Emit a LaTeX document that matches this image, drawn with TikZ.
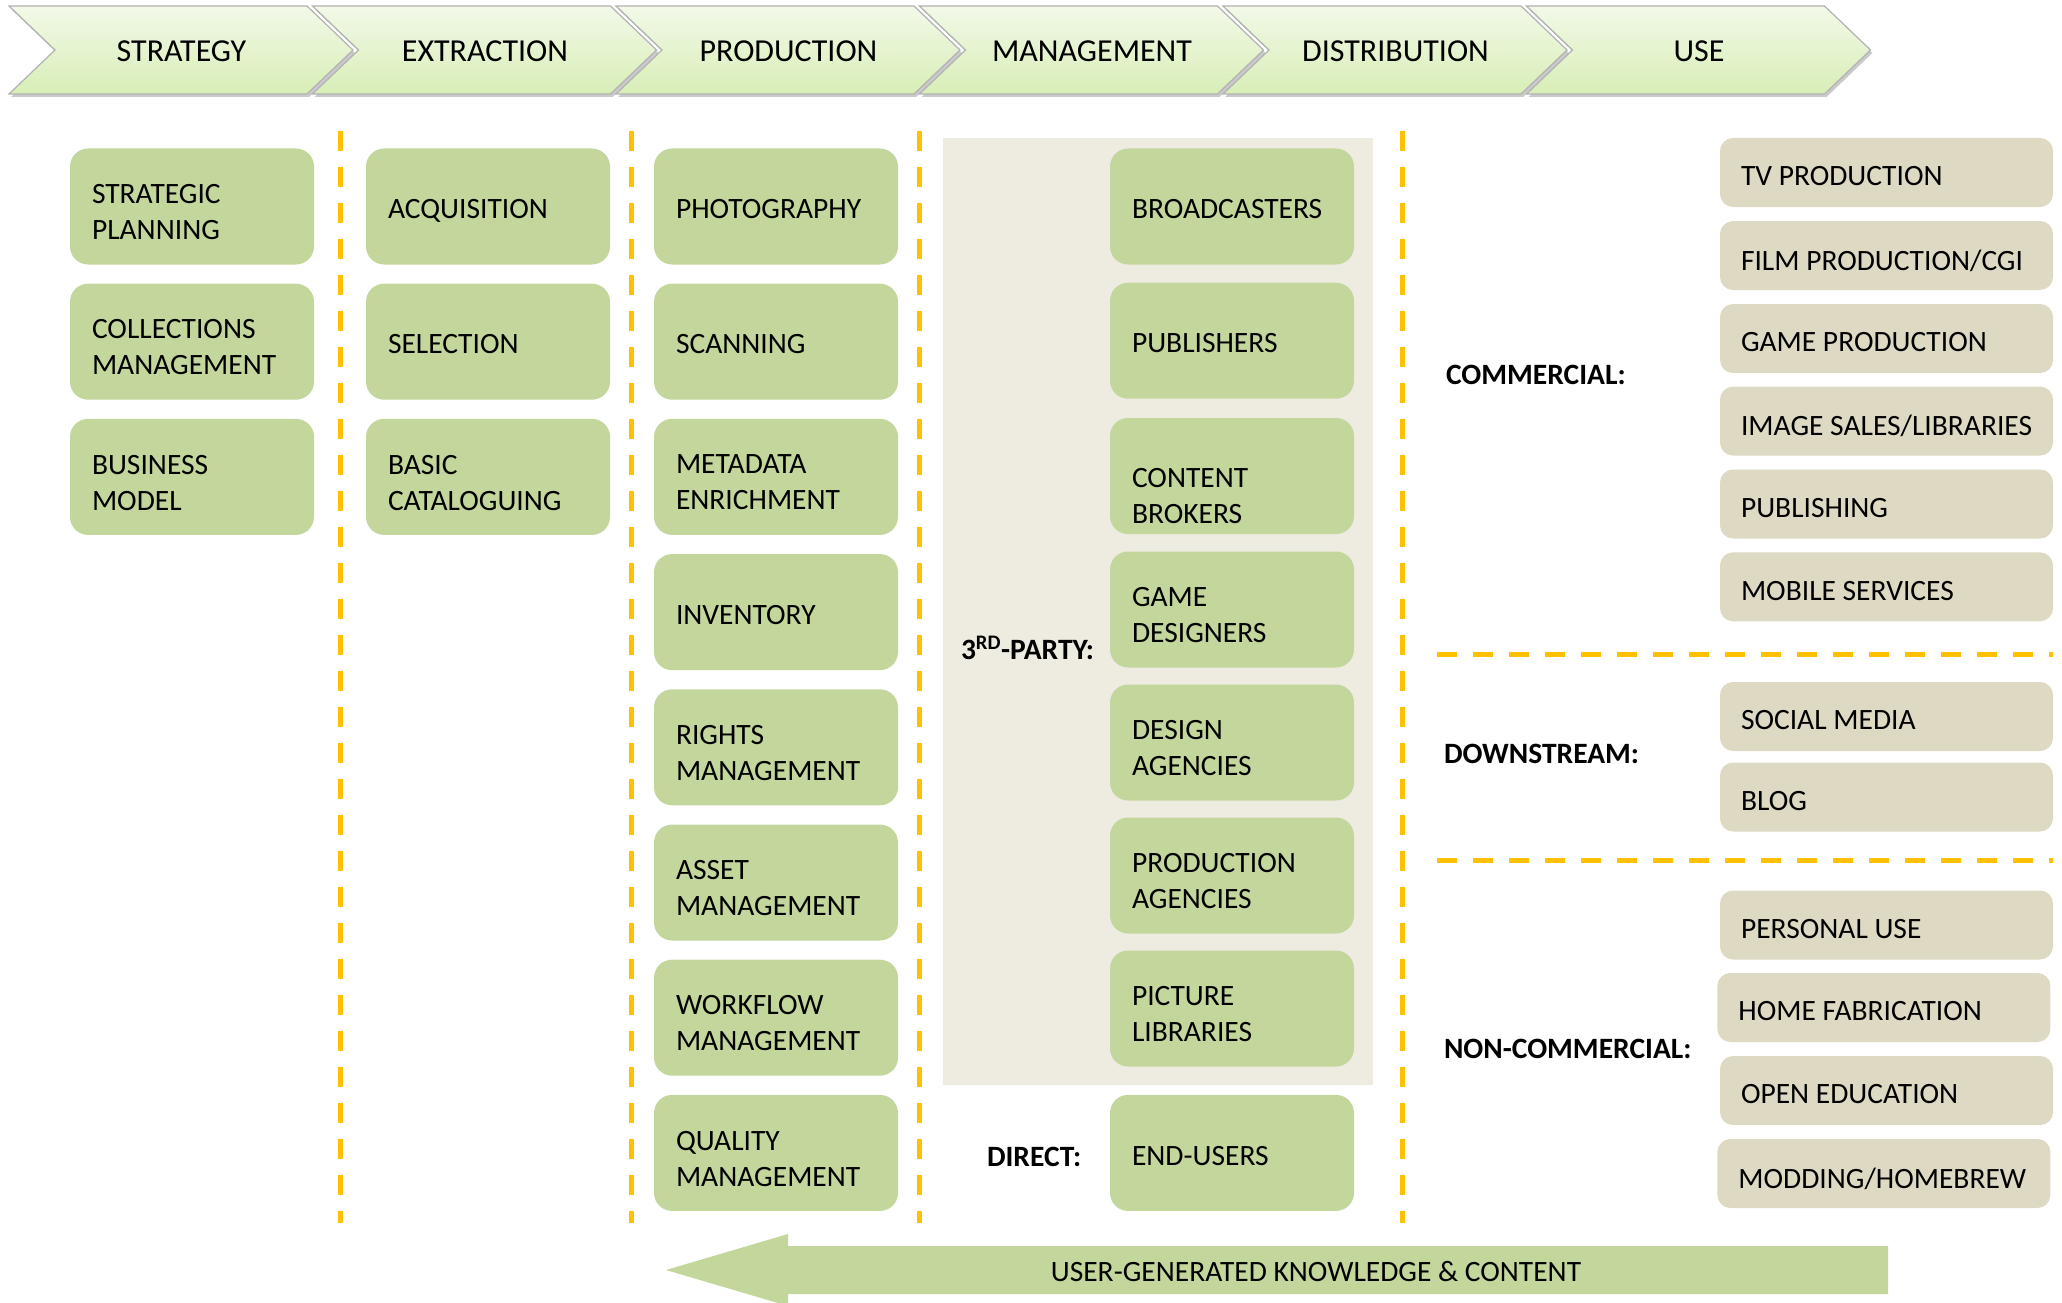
\documentclass[tikz,border=0pt]{standalone}
\usepackage{fontspec}
\setmainfont{Carlito}
\usetikzlibrary{calc,shadows}
\definecolor{boxgreen}{HTML}{C3D69B}
\definecolor{boxtan}{HTML}{DDD9C3}
\definecolor{bgtan}{HTML}{EEECE1}
\definecolor{dashy}{HTML}{FFC000}
\definecolor{chevtop}{HTML}{F2F9E8}
\definecolor{chevbot}{HTML}{D8EEB6}
\newcommand{\mkgbox}[5]{%
  \node[gbox] (#1) at (#2,#3) {};
  \node[btxt] (#1-t) at ($(#1.north west)+(22,#4)$) {#5};}
\newcommand{\mkubox}[4]{%
  \node[tbox] (#1) at (#2,#3) {};
  \node[btxt] (#1-t) at ($(#1.north west)+(21,28.6)$) {#4};}
\begin{document}
\begin{tikzpicture}[x=1pt,y=-1pt,
  every node/.style={font=\fontsize{29.5}{36}\selectfont, inner sep=0pt, outer sep=0pt},
  gbox/.style={fill=boxgreen, rounded corners=18pt, minimum width=244pt, minimum height=116pt, anchor=north west},
  tbox/.style={fill=boxtan, rounded corners=13pt, minimum width=333pt, minimum height=69pt, anchor=north west},
  btxt/.style={anchor=north west, align=left},
  lbl/.style={anchor=base west, font=\fontsize{29.5}{36}\selectfont\bfseries},
  htxt/.style={anchor=base, font=\fontsize{32}{38}\selectfont},
  divider/.style={draw=dashy, line width=5pt, dash pattern=on 20pt off 16pt},
  chev/.style={top color=chevtop, bottom color=chevbot, draw=black!30, line width=1.2pt,
    drop shadow={shadow xshift=2pt, shadow yshift=-3pt, opacity=0.35, fill=black!60}},
]
\useasboundingbox (0,0) rectangle (2062,1303);
\clip (0,0) rectangle (2062,1303);

% header chevrons
\foreach \i/\t in {0/STRATEGY,1/EXTRACTION,2/PRODUCTION,3/MANAGEMENT,4/DISTRIBUTION,5/USE}{
  \path[chev] ({9+303.5*\i},6) -- ++(298,0) -- ++(46,44) -- ++(-46,44) -- ++(-298,0) -- ++(46,-44) -- cycle;
  \node[htxt] (h\i) at ({181.5+303.5*\i},61.3) {\t};
}

% management background
\fill[bgtan] (943,138) rectangle (1373,1085);

% dividers
\foreach \x in {340.6,631,919,1402}{
  \draw[divider] (\x,131) -- (\x,1223);
}
\draw[divider] (1437,654) -- (2053,654);
\draw[divider] (1437,860) -- (2053,860);

% strategy
\mkgbox{sp}{70}{148.5}{36}{STRATEGIC\\PLANNING}
\mkgbox{cm}{70}{283.7}{36}{COLLECTIONS\\MANAGEMENT}
\mkgbox{bm}{70}{418.9}{36}{BUSINESS\\MODEL}

% extraction
\mkgbox{acq}{366}{148.5}{51}{ACQUISITION}
\mkgbox{sel}{366}{283.7}{51}{SELECTION}
\mkgbox{bc}{366}{418.9}{36}{BASIC\\CATALOGUING}

% production
\mkgbox{pho}{654}{148.5}{51}{PHOTOGRAPHY}
\mkgbox{scn}{654}{283.7}{51}{SCANNING}
\mkgbox{mde}{654}{418.9}{36}{METADATA\\ENRICHMENT}
\mkgbox{inv}{654}{554.1}{51}{INVENTORY}
\mkgbox{rm}{654}{689.3}{36}{RIGHTS\\MANAGEMENT}
\mkgbox{am}{654}{824.5}{36}{ASSET\\MANAGEMENT}
\mkgbox{wm}{654}{959.7}{36}{WORKFLOW\\MANAGEMENT}
\mkgbox{qm}{654}{1094.9}{36}{QUALITY\\MANAGEMENT}

% management / distribution
\mkgbox{brd}{1110}{148.5}{51}{BROADCASTERS}
\mkgbox{pub}{1110}{282.7}{51}{PUBLISHERS}
\mkgbox{cb}{1110}{418}{50}{CONTENT\\BROKERS}
\mkgbox{gd}{1110}{551.5}{36}{GAME\\DESIGNERS}
\mkgbox{da}{1110}{684.5}{36}{DESIGN\\AGENCIES}
\mkgbox{pa}{1110}{817.5}{36}{PRODUCTION\\AGENCIES}
\mkgbox{pl}{1110}{950.5}{36}{PICTURE\\LIBRARIES}
\mkgbox{eu}{1110}{1094.9}{51}{END-USERS}

\node[lbl] (l3rd) at (961,659) {3\textsuperscript{RD}-PARTY:};
\node[lbl] (ldir) at (987,1166) {DIRECT:};

% use
\mkubox{tv}{1720}{138}{TV PRODUCTION}
\mkubox{film}{1720}{221}{FILM PRODUCTION/CGI}
\mkubox{game}{1720}{304}{GAME PRODUCTION}
\mkubox{img}{1720}{386.6}{IMAGE SALES/LIBRARIES}
\mkubox{publ}{1720}{469.5}{PUBLISHING}
\mkubox{mob}{1720}{552.3}{MOBILE SERVICES}
\mkubox{soc}{1720}{682}{SOCIAL MEDIA}
\mkubox{blog}{1720}{762.5}{BLOG}
\mkubox{pers}{1720}{890.5}{PERSONAL USE}
\mkubox{home}{1717.4}{973}{HOME FABRICATION}
\mkubox{open}{1720}{1056}{OPEN EDUCATION}
\mkubox{mod}{1717.4}{1139}{MODDING/HOMEBREW}

\node[lbl] (lcom) at (1446,384) {COMMERCIAL:};
\node[lbl] (ldown) at (1444,763) {DOWNSTREAM:};
\node[lbl] (lnon) at (1444,1058) {NON-COMMERCIAL:};

% bottom arrow
\fill[boxgreen] (666,1270) -- (788,1234) -- (788,1246) -- (1888,1246) -- (1888,1294) -- (788,1294) -- (788,1306) -- cycle;
\node[anchor=base] (ugk) at (1316,1281) {USER-GENERATED KNOWLEDGE \& CONTENT};
\end{tikzpicture}
\end{document}
